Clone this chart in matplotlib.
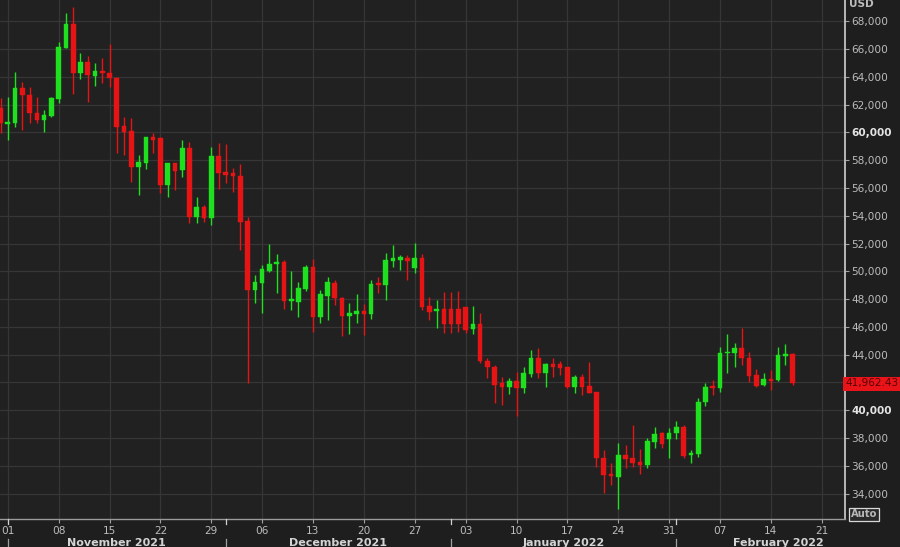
import matplotlib
matplotlib.use("Agg")
import matplotlib.pyplot as plt
import matplotlib.dates as mdates
import matplotlib.transforms as mtrans
import numpy as np
import pandas as pd

# ---- data (daily candles, Oct 31 2021 .. Feb 17 2022) ----
start_date = "2021-10-31"
opens = [61740, 60610, 60660, 63180, 62700, 61380, 60890, 61180, 62410, 66100,
         67780, 64260, 65090, 64060, 64440, 64260, 63940, 60460, 60120, 57530,
         57820, 59690, 59620, 56210, 57780, 57290, 58900, 53930, 54630, 53860,
         58300, 57170, 57100, 56880, 53640, 48650, 49180, 50040, 50500, 50650,
         47880, 47810, 48700, 50330, 46730, 48240, 49180, 48100, 46780, 46930,
         47140, 46900, 49180, 49010, 50740, 50810, 50940, 50240, 50940, 47500,
         47140, 47260, 47260, 47260, 47410, 45820, 46180, 43540, 43130, 41930,
         41690, 42100, 41620, 42610, 43740, 42700, 43300, 43300, 43090, 41650,
         42410, 41740, 41290, 36580, 35410, 35210, 36770, 36580, 36290, 36050,
         37730, 38380, 37900, 38340, 38810, 36770, 36820, 40570, 41740, 41620,
         44100, 44140, 44460, 43780, 42530, 41810, 42250, 42170, 43920, 44050]
highs = [62460, 62530, 64330, 63650, 63250, 62570, 61610, 62570, 66530, 68580,
         69010, 65700, 65500, 65020, 65340, 66340, 64010, 61130, 61020, 58370,
         59700, 59980, 59700, 57820, 57800, 59450, 59330, 55330, 54770, 58970,
         59260, 59170, 57440, 57730, 53910, 49730, 50450, 51970, 51250, 50810,
         50040, 49250, 50450, 50890, 48650, 49570, 49370, 48170, 47700, 48340,
         47620, 49370, 49610, 51340, 51890, 51170, 51170, 52040, 51250, 48170,
         47930, 48530, 48530, 48570, 47450, 47500, 47020, 43740, 43250, 42410,
         42300, 42770, 43130, 44330, 44460, 43420, 43740, 43540, 43130, 42530,
         42580, 43490, 41330, 37130, 36180, 37620, 37490, 38930, 37180, 37980,
         38770, 38450, 38700, 39220, 38930, 37130, 40860, 41980, 42170, 44530,
         45490, 44820, 45900, 44210, 42940, 42700, 42890, 44530, 44740, 44140]
lows = [59940, 59450, 60410, 60170, 60700, 60660, 60050, 61130, 62100, 66060,
        62770, 63820, 62210, 63340, 63580, 63250, 58500, 58370, 56450, 55490,
        57340, 58500, 55620, 55330, 55850, 56810, 53500, 53500, 53550, 53330,
        55930, 56380, 55730, 51530, 41960, 47740, 47020, 49970, 48440, 47290,
        47210, 46730, 48600, 45650, 46260, 46490, 47570, 45360, 45460, 46300,
        45410, 46540, 48420, 47930, 50330, 50090, 49370, 49880, 47210, 46490,
        45900, 45580, 45580, 45650, 45540, 45460, 43380, 42300, 40500, 40370,
        41140, 39580, 41220, 42410, 42300, 41690, 42410, 42530, 41580, 41220,
        41090, 41220, 35930, 34020, 34610, 32860, 35820, 35930, 35410, 35820,
        37260, 37300, 36580, 37930, 36540, 36180, 36650, 40300, 41090, 41330,
        42660, 43130, 43250, 42050, 41690, 41740, 41450, 42120, 43250, 41790]
closes = [60660, 60770, 63180, 62690, 61380, 60890, 61250, 62500, 66130, 67780,
          64260, 65090, 64130, 64420, 64260, 63920, 60410, 60050, 57530, 57890,
          59690, 59450, 56210, 57780, 57240, 58900, 53930, 54610, 53840, 58300,
          57100, 56930, 56860, 53570, 48650, 49250, 50140, 50530, 50650, 47880,
          47980, 48780, 50330, 46730, 48340, 49250, 48060, 46780, 47020, 47140,
          46900, 49090, 49010, 50810, 50940, 51010, 50760, 50960, 47450, 47090,
          47260, 46210, 46210, 46210, 45770, 46180, 43540, 43090, 41810, 41690,
          42100, 41620, 42660, 43740, 42700, 43300, 43130, 43020, 41690, 42410,
          41650, 41260, 36580, 35330, 35260, 36770, 36490, 36180, 36050, 37780,
          38290, 37570, 38380, 38810, 36720, 36940, 40610, 41650, 41580, 44100,
          44190, 44460, 43740, 42460, 41740, 42220, 42120, 43970, 44050, 41962.43]

y_ticks = list(range(34000, 68001, 2000))
x_tick_labels = ["01", "08", "15", "22", "29", "06", "13", "20", "27",
                 "03", "10", "17", "24", "31", "07", "14", "21"]
month_labels = ["November 2021", "December 2021", "January 2022", "February 2022"]
month_starts = ["2021-11-01", "2021-12-01", "2022-01-01", "2022-02-01"]
last_price = 41962.43
last_price_label = "41,962.43"

# ---- styling ----
BG = "#1e1e1e"
PANEL = "#202120"
GRID = "#363636"
TXT = "#bcbcbc"
UP = "#1fe01f"
DOWN = "#e61414"

fig = plt.figure(figsize=(9.0, 5.47), dpi=100, facecolor=BG)
W, H = 900, 547
ax = fig.add_axes([0, (H - 519) / H, 845 / W, 519 / H], facecolor=PANEL)

dates = pd.date_range(start_date, periods=len(opens), freq="D")
x = mdates.date2num(dates.to_pydatetime())
o = np.array(opens, float)
h = np.array(highs, float)
l = np.array(lows, float)
c = np.array(closes, float)
up = c >= o
cols = np.where(up, UP, DOWN)

ax.vlines(x, l, h, colors=cols, linewidth=1.0, zorder=3)
bottoms = np.minimum(o, c)
heights = np.maximum(np.abs(c - o), 110)
bottoms = np.where(np.abs(c - o) < 110, (o + c) / 2 - 55, bottoms)
ax.bar(x, heights, bottom=bottoms, width=0.64, color=cols, edgecolor=cols,
       linewidth=0.3, zorder=4)

x0 = mdates.date2num(pd.Timestamp("2021-11-01").to_pydatetime())
ax.set_xlim(x0 - 1.07, x0 + 115.2)
ax.set_ylim(32166, 69534)

# grid
ax.set_yticks(y_ticks)
week_ticks = [x0 + 7 * i for i in range(len(x_tick_labels))]
ax.set_xticks(week_ticks)
ax.set_xticklabels(x_tick_labels)
ax.grid(True, color=GRID, linewidth=0.9, zorder=0)
ax.set_axisbelow(True)

for s in ["left", "top"]:
    ax.spines[s].set_visible(False)
ax.spines["right"].set_color("#d0d0d0")
ax.spines["right"].set_linewidth(1.2)
ax.spines["bottom"].set_color("#9a9a9a")
ax.spines["bottom"].set_linewidth(1.0)

ax.yaxis.tick_right()
ax.tick_params(axis="y", colors="#a0a0a0", labelcolor=TXT, labelsize=7.6,
               length=3, width=0.8, pad=1.5, direction="out")
ax.tick_params(axis="x", colors="#a0a0a0", labelcolor=TXT, labelsize=7.6,
               length=3, width=0.8, pad=2, direction="out")
# the 42,000 label sits under the last-price tag in the reference
ax.set_yticklabels([("" if v == 42000 else f"{v:,}") for v in y_ticks])
for lbl, v in zip(ax.get_yticklabels(), y_ticks):
    if v in (60000, 40000):
        lbl.set_fontweight("bold")
        lbl.set_color("#e4e4e4")

# USD label
fig.text(849 / W, 1 - 4 / H, "USD", color=TXT, fontsize=7.6, fontweight="bold",
         ha="left", va="center")

# last price tag
ytrans = mtrans.blended_transform_factory(fig.transFigure, ax.transData)
fig.patches.append(matplotlib.patches.Rectangle(
    (843 / W, 1 - 390.5 / H), 57 / W, 14 / H, transform=fig.transFigure,
    facecolor="#e8141a", edgecolor="none", zorder=5))
fig.text(871.5 / W, last_price, last_price_label, transform=ytrans,
         color="#5a0000", fontsize=7.5,
         ha="center", va="center", zorder=6)

# Auto box
fig.text(864 / W, 1 - 514 / H, "Auto", color="#b8b8b8", fontsize=7.2,
         fontweight="bold", ha="center", va="center",
         bbox=dict(boxstyle="square,pad=0.15", facecolor="#2a2a2a",
                   edgecolor="#d8d8d8", linewidth=0.9))

# month labels and separators
trans = mtrans.blended_transform_factory(ax.transData, fig.transFigure)
ms = [mdates.date2num(pd.Timestamp(m).to_pydatetime()) for m in month_starts]
ends = ms[1:] + [x0 + 120]
for m, lab, e in zip(ms, month_labels, ends):
    fig.lines.append(matplotlib.lines.Line2D([m, m], [0, 8 / H], transform=trans,
                                             color="#a0a0a0", linewidth=0.9))
    fig.lines.append(matplotlib.lines.Line2D([m, m], [1 - 519 / H, 1 - 524 / H],
                                             transform=trans, color="#d0d0d0",
                                             linewidth=0.9))
    mid = (m + min(e, x0 + 123)) / 2
    if lab.startswith("February"):
        mid = m + 14
    fig.text(mid, 1 - 537.5 / H, lab, transform=trans, color="#d4d4d4",
             fontsize=8, fontweight="bold", ha="center", va="top")

fig.savefig("out.png", dpi=100, facecolor=BG)
